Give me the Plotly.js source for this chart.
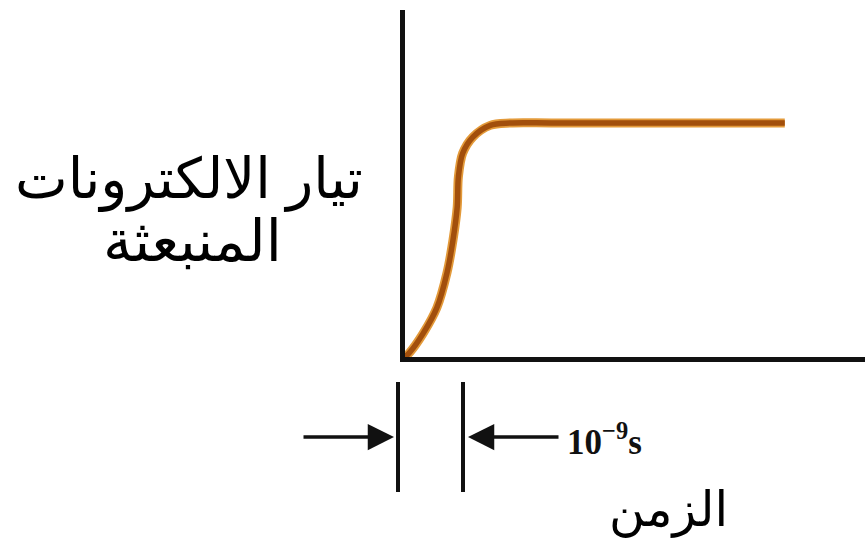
<!DOCTYPE html>
<html>
<head>
<meta charset="utf-8">
<script src="https://cdn.plot.ly/plotly-3.0.1.min.js"></script>
<style>
  html, body { margin: 0; padding: 0; background: #ffffff; }
  #chart { width: 865px; height: 542px; }
</style>
</head>
<body>
<div id="chart"></div>
<script>
// Emitted photoelectron current versus time (time in ns, current normalised to saturation)
const timeNs = [0, 0.08, 0.3, 0.53, 0.7, 0.8, 0.87, 0.89, 0.96, 1.13, 1.42, 1.75, 2.5, 6.33];
const current = [0, 0.02, 0.10, 0.21, 0.36, 0.50, 0.64, 0.77, 0.87, 0.94, 0.99, 1.0, 1.0, 1.0];

const yLabelLines = ['تيار الالكترونات', 'المنبعثة'];
const xLabel = 'الزمن';
const intervalLabel = '10<sup>−9</sup>s';

const arabicFont = 'Arial, "Liberation Sans", "DejaVu Sans", sans-serif';

// outer orange halo and darker brown core give the printed curve look
const halo = {
  x: timeNs, y: current, mode: 'lines', hoverinfo: 'skip',
  line: { color: '#e39a3a', width: 9, shape: 'spline', smoothing: 0.9 }
};
const core = {
  x: timeNs, y: current, mode: 'lines', hoverinfo: 'skip',
  line: { color: '#a24f0c', width: 5.5, shape: 'spline', smoothing: 0.9 }
};

// paper coordinates for the interval markers below the time axis
const plotTop = 10, plotBottom = 357, plotLeft = 405, plotRight = 865;
const px = v => (v - plotLeft) / (plotRight - plotLeft);
const py = v => (plotBottom - v) / (plotBottom - plotTop);

const markerLine = xp => ({
  type: 'line', xref: 'paper', yref: 'paper',
  x0: px(xp), x1: px(xp), y0: py(382), y1: py(492),
  line: { color: '#111', width: 4 }
});

const layout = {
  width: 865, height: 542,
  margin: { l: plotLeft, r: 0, t: plotTop, b: 542 - plotBottom },
  paper_bgcolor: '#ffffff', plot_bgcolor: '#ffffff',
  showlegend: false,
  xaxis: {
    range: [0, 7.667], showgrid: false, zeroline: false, showticklabels: false, ticks: '',
    showline: true, linecolor: '#111', linewidth: 5, fixedrange: true
  },
  yaxis: {
    range: [0, 1.483], showgrid: false, zeroline: false, showticklabels: false, ticks: '',
    showline: true, linecolor: '#111', linewidth: 5, fixedrange: true
  },
  shapes: [markerLine(398), markerLine(463)],
  annotations: [
    { xref: 'paper', yref: 'paper', x: px(189), y: py(179), text: yLabelLines[0], showarrow: false,
      xanchor: 'center', yanchor: 'middle', font: { family: arabicFont, size: 56, color: '#000' } },
    { xref: 'paper', yref: 'paper', x: px(192), y: py(240), text: yLabelLines[1], showarrow: false,
      xanchor: 'center', yanchor: 'middle', font: { family: arabicFont, size: 58, color: '#000' } },
    { xref: 'paper', yref: 'paper', x: px(668), y: py(510), text: xLabel, showarrow: false,
      xanchor: 'center', yanchor: 'middle', font: { family: arabicFont, size: 49, color: '#000' } },
    { xref: 'paper', yref: 'paper', x: px(565), y: py(439), text: '<b>' + intervalLabel + '</b>', showarrow: false,
      xanchor: 'left', yanchor: 'middle', font: { family: '"Liberation Serif", "Times New Roman", serif', size: 35, color: '#111' } },
    // arrow pointing right toward the first marker
    { xref: 'paper', yref: 'paper', x: px(394), y: py(437), text: '', showarrow: true,
      axref: 'pixel', ayref: 'pixel', ax: -92, ay: 0,
      arrowhead: 2, arrowsize: 1.5, arrowwidth: 3.5, arrowcolor: '#111' },
    // arrow pointing left toward the second marker
    { xref: 'paper', yref: 'paper', x: px(468), y: py(437), text: '', showarrow: true,
      axref: 'pixel', ayref: 'pixel', ax: 92, ay: 0,
      arrowhead: 2, arrowsize: 1.5, arrowwidth: 3.5, arrowcolor: '#111' }
  ]
};

Plotly.newPlot('chart', [halo, core], layout, { staticPlot: true, displayModeBar: false });
</script>
</body>
</html>
